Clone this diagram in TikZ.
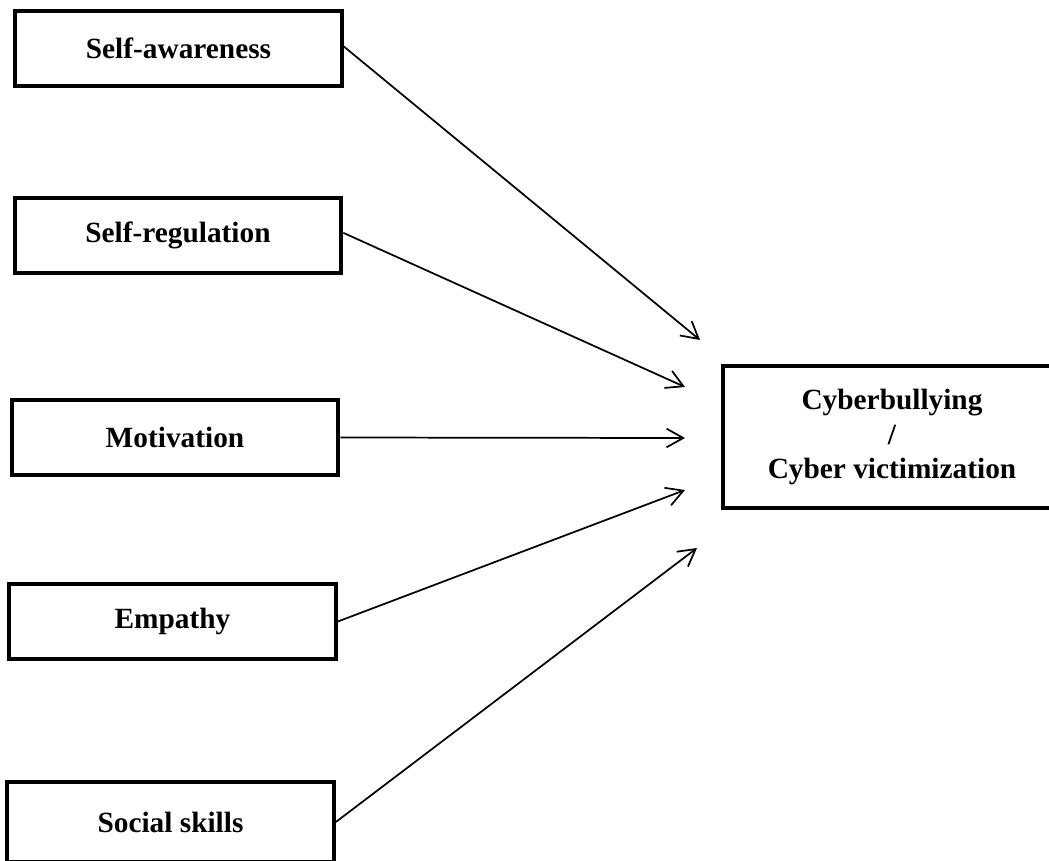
\documentclass[tikz,border=0pt]{standalone}
\usepackage{fontspec}
\setmainfont{Liberation Serif}
\usetikzlibrary{arrows.meta}
\begin{document}
\begin{tikzpicture}[x=0.75pt,y=-0.75pt,
  factor/.style={draw=black,line width=3pt,minimum width=245pt,minimum height=56pt,inner sep=0pt,
    font=\fontsize{22}{27}\selectfont\bfseries},
  outcome/.style={draw=black,line width=3pt,minimum width=253pt,minimum height=106pt,inner sep=0pt,
    align=center,font=\fontsize{22}{26}\selectfont\bfseries},
  link/.style={line width=1.3pt,-{Straight Barb[length=12.5pt,width=14pt,line width=1.3pt]}}]
\useasboundingbox (0,0) rectangle (1049,860);
\clip (0,0) rectangle (1049,860);
\node[factor] (sa) at (178.5,48.5) {Self-awareness};
\node[factor] (sr) at (178,235.5) {Self-regulation};
\node[factor] (mo) at (175,437.5) {Motivation};
\node[factor] (em) at (172.5,621.5) {Empathy};
\node[factor,minimum height=60pt] (ss) at (170.5,822) {Social skills};
\node[outcome] (cb) at (892,437) {Cyberbullying\\/\\Cyber victimization};
\coordinate (t1) at (700,340);
\coordinate (t2) at (685,387);
\coordinate (t3) at (685,438);
\coordinate (t4) at (685,490);
\coordinate (t5) at (697,548);
\draw[link] ([yshift=1.5pt]sa.east) -- (t1);
\draw[link] ([yshift=2pt]sr.east) -- (t2);
\draw[link] (mo.east) -- (t3);
\draw[link] (em.east) -- (t4);
\draw[link] (ss.east) -- (t5);
\end{tikzpicture}
\end{document}
